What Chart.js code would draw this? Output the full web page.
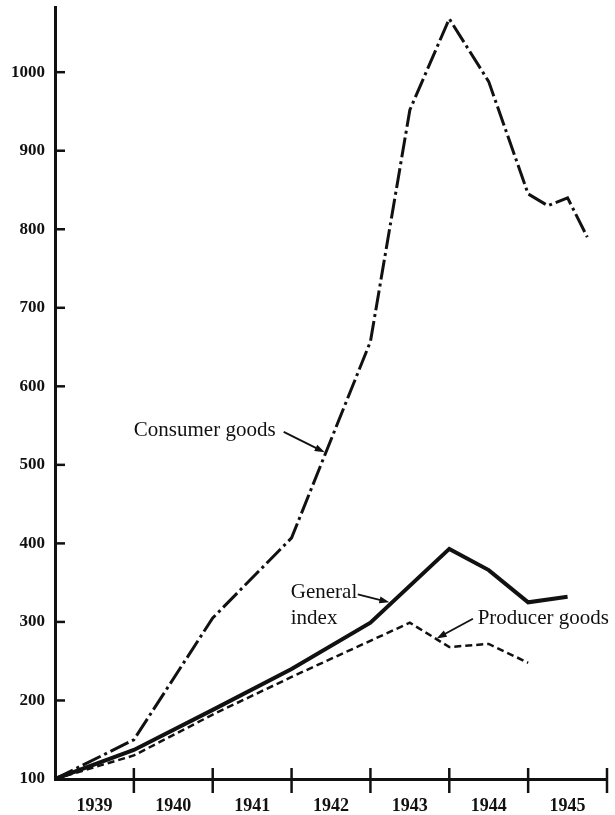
<!DOCTYPE html>
<html>
<head>
<meta charset="utf-8">
<script src="https://cdn.jsdelivr.net/npm/chart.js@4.4.1/dist/chart.umd.min.js"></script>
<style>
  html, body { margin: 0; padding: 0; background: #fff; }
  #wrap { width: 615px; height: 815px; position: relative; }
</style>
</head>
<body>
<div id="wrap"><canvas id="chart"></canvas></div>
<script>
// Index values (1939 start = 100)
const consumerYears = [1939, 1940, 1941, 1942, 1943, 1943.5, 1944, 1944.5, 1945, 1945.25, 1945.5, 1945.75];
const consumerValues = [100, 150, 305, 407, 657, 952, 1068, 988, 845, 830, 840, 790];

const generalYears = [1939, 1940, 1941, 1942, 1943, 1944, 1944.5, 1945, 1945.5];
const generalValues = [100, 137, 188, 240, 299, 393, 366, 325, 332];

const producerYears = [1939, 1940, 1941, 1942, 1943.5, 1944, 1944.5, 1945];
const producerValues = [100, 130, 182, 230, 299, 268, 272, 248];

const yTicks = [100, 200, 300, 400, 500, 600, 700, 800, 900, 1000];
const yearLabels = [1939, 1940, 1941, 1942, 1943, 1944, 1945];
const yearBounds = [1940, 1941, 1942, 1943, 1944, 1945, 1946];

const INK = '#111';
const SERIF = '"Liberation Serif", "DejaVu Serif", serif';

function points(xs, ys) {
    return xs.map((x, i) => ({ x: x, y: ys[i] }));
}

// Labels with arrows (in data units)
const callouts = [
    { lines: ['Consumer goods'], at: [1940.0, 544], from: [1941.9, 542], to: [1942.42, 516] },
    { lines: ['General', 'index'], at: [1941.99, 338], from: [1942.84, 335], to: [1943.24, 325] },
    { lines: ['Producer goods'], at: [1944.36, 305], from: [1944.3, 304], to: [1943.84, 279] }
];

const axisMarks = {
    id: 'axisMarks',
    afterDraw(chart) {
        const { ctx, chartArea, scales } = chart;
        ctx.save();
        ctx.strokeStyle = INK;
        ctx.lineCap = 'butt';
        // y ticks point into the plot
        ctx.lineWidth = 2.5;
        yTicks.forEach(v => {
            const y = scales.y.getPixelForValue(v);
            ctx.beginPath();
            ctx.moveTo(chartArea.left, y);
            ctx.lineTo(chartArea.left + 10, y);
            ctx.stroke();
        });
        // x ticks cross the axis at year boundaries
        yearBounds.forEach(v => {
            const x = scales.x.getPixelForValue(v);
            ctx.beginPath();
            ctx.moveTo(x, chartArea.bottom - 11);
            ctx.lineTo(x, chartArea.bottom + 14);
            ctx.stroke();
        });
        ctx.restore();
    }
};

const calloutLabels = {
    id: 'calloutLabels',
    afterDatasetsDraw(chart) {
        const { ctx, scales } = chart;
        const px = p => [scales.x.getPixelForValue(p[0]), scales.y.getPixelForValue(p[1])];
        ctx.save();
        ctx.fillStyle = INK;
        ctx.strokeStyle = INK;
        ctx.font = '21px ' + SERIF;
        ctx.textAlign = 'left';
        ctx.textBaseline = 'middle';
        callouts.forEach(c => {
            const [tx, ty] = px(c.at);
            c.lines.forEach((line, i) => ctx.fillText(line, tx, ty + i * 26));
            const [x1, y1] = px(c.from);
            const [x2, y2] = px(c.to);
            const ang = Math.atan2(y2 - y1, x2 - x1);
            ctx.lineWidth = 1.8;
            ctx.beginPath();
            ctx.moveTo(x1, y1);
            ctx.lineTo(x2 - 6 * Math.cos(ang), y2 - 6 * Math.sin(ang));
            ctx.stroke();
            ctx.beginPath();
            ctx.moveTo(x2, y2);
            ctx.lineTo(x2 - 10 * Math.cos(ang) + 3.5 * Math.sin(ang), y2 - 10 * Math.sin(ang) - 3.5 * Math.cos(ang));
            ctx.lineTo(x2 - 10 * Math.cos(ang) - 3.5 * Math.sin(ang), y2 - 10 * Math.sin(ang) + 3.5 * Math.cos(ang));
            ctx.closePath();
            ctx.fill();
        });
        ctx.restore();
    }
};

new Chart(document.getElementById('chart'), {
    type: 'line',
    data: {
        datasets: [
            {
                label: 'Consumer goods',
                data: points(consumerYears, consumerValues),
                borderColor: INK,
                borderWidth: 3,
                borderDash: [20, 4, 3, 4],
                pointRadius: 0,
                tension: 0
            },
            {
                label: 'General index',
                data: points(generalYears, generalValues),
                borderColor: INK,
                borderWidth: 4,
                pointRadius: 0,
                tension: 0
            },
            {
                label: 'Producer goods',
                data: points(producerYears, producerValues),
                borderColor: INK,
                borderWidth: 2.5,
                borderDash: [7, 4],
                pointRadius: 0,
                tension: 0
            }
        ]
    },
    options: {
        responsive: true,
        maintainAspectRatio: false,
        animation: false,
        layout: { padding: { top: 7, right: 8, left: 0, bottom: 0 } },
        plugins: {
            legend: { display: false },
            tooltip: { enabled: false }
        },
        scales: {
            x: {
                type: 'linear',
                min: 1939,
                max: 1946,
                afterBuildTicks: axis => { axis.ticks = yearLabels.map(v => ({ value: v + 0.5 })); },
                afterFit: axis => { axis.height = 36; axis.paddingLeft = 0; axis.paddingRight = 0; },
                grid: { drawOnChartArea: false, drawTicks: false },
                border: { display: true, color: INK, width: 3 },
                ticks: {
                    padding: 17,
                    maxRotation: 0,
                    autoSkip: false,
                    color: INK,
                    font: { family: SERIF, size: 18, weight: 'bold' },
                    callback: v => String(Math.floor(v))
                }
            },
            y: {
                type: 'linear',
                min: 100,
                max: 1083,
                afterBuildTicks: axis => { axis.ticks = yTicks.map(v => ({ value: v })); },
                afterFit: axis => { axis.width = 55; axis.paddingTop = 0; axis.paddingBottom = 0; },
                grid: { drawOnChartArea: false, drawTicks: false },
                border: { display: true, color: INK, width: 3 },
                ticks: {
                    padding: 10,
                    color: INK,
                    font: { family: SERIF, size: 17, weight: 'bold' },
                    callback: v => String(v)
                }
            }
        }
    },
    plugins: [axisMarks, calloutLabels]
});
</script>
</body>
</html>
